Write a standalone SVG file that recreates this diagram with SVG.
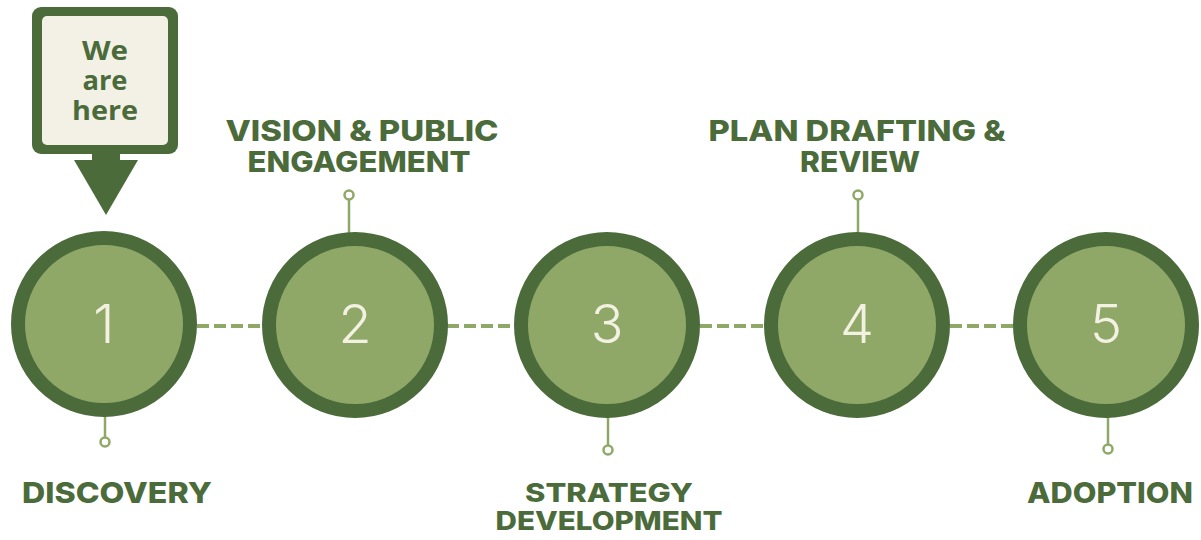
<svg xmlns="http://www.w3.org/2000/svg" width="1201" height="540" viewBox="0 0 1201 540">
<style>
.ring{fill:#8fa868;stroke:#4b6b3b;stroke-width:14}
.num{font-family:Inter,"Noto Sans",sans-serif;font-weight:300;font-size:54px;fill:#f3f1e2;text-anchor:middle}
.lbl{font-family:Inter,"Noto Sans",sans-serif;font-weight:800;font-size:29px;fill:#4b6b3b;text-anchor:middle}
.lbl2{font-size:26px}
.dash{stroke:#8fa868;stroke-width:4;stroke-dasharray:12 5;fill:none}
.pin{stroke:#8fa868;stroke-width:2.5;fill:none}
.pinc{stroke:#8fa868;stroke-width:2.5;fill:#ffffff}
.here{font-family:"Open Sans","Liberation Sans",sans-serif;font-weight:700;font-size:27px;fill:#4b6b3b;text-anchor:middle}
</style>
<rect width="1201" height="540" fill="#ffffff"/>
<g id="connectors">
<line class="dash" x1="197" y1="326" x2="262" y2="326"/>
<line class="dash" x1="447" y1="326" x2="514" y2="326"/>
<line class="dash" x1="700" y1="326" x2="764" y2="326"/>
<line class="dash" x1="950" y1="326" x2="1015" y2="326"/>
<line class="pin" x1="105" y1="416" x2="105" y2="437"/>
<circle class="pinc" cx="105" cy="442" r="4.5"/>
<line class="pin" x1="349" y1="200" x2="349" y2="234"/>
<circle class="pinc" cx="349" cy="195" r="4.5"/>
<line class="pin" x1="608" y1="416" x2="608" y2="445"/>
<circle class="pinc" cx="608" cy="450" r="4.5"/>
<line class="pin" x1="858" y1="200" x2="858" y2="234"/>
<circle class="pinc" cx="858" cy="195" r="4.5"/>
<line class="pin" x1="1108" y1="416" x2="1108" y2="444"/>
<circle class="pinc" cx="1108" cy="449" r="4.5"/>
</g>
<g id="we-are-here">
<rect x="32" y="7" width="146" height="147" rx="9" fill="#4b6b3b"/>
<rect x="42" y="16" width="126" height="129" rx="5" fill="#f3f1e6"/>
<rect x="92" y="150" width="28" height="12" fill="#4b6b3b"/>
<polygon points="74,160 138,160 106,215" fill="#4b6b3b"/>
<text class="here" x="105" y="60" textLength="46" lengthAdjust="spacingAndGlyphs">We</text>
<text class="here" x="105" y="90" textLength="45" lengthAdjust="spacingAndGlyphs">are</text>
<text class="here" x="105" y="120" textLength="66" lengthAdjust="spacingAndGlyphs">here</text>
</g>
<g id="step1">
<circle class="ring" cx="104" cy="324" r="86"/>
<text class="num" x="104" y="343">1</text>
<text class="lbl" x="117" y="503" textLength="190" lengthAdjust="spacingAndGlyphs">DISCOVERY</text>
</g>
<g id="step2">
<circle class="ring" cx="355" cy="325" r="86"/>
<text class="num" x="355" y="343">2</text>
<text class="lbl" x="362" y="141" textLength="273" lengthAdjust="spacingAndGlyphs">VISION &amp; PUBLIC</text>
<text class="lbl" x="359" y="172" textLength="223" lengthAdjust="spacingAndGlyphs">ENGAGEMENT</text>
</g>
<g id="step3">
<circle class="ring" cx="607" cy="325" r="86"/>
<text class="num" x="607" y="343">3</text>
<text class="lbl lbl2" x="609" y="502" textLength="168" lengthAdjust="spacingAndGlyphs">STRATEGY</text>
<text class="lbl lbl2" x="609" y="530" textLength="227" lengthAdjust="spacingAndGlyphs">DEVELOPMENT</text>
</g>
<g id="step4">
<circle class="ring" cx="857" cy="325" r="86"/>
<text class="num" x="857" y="343">4</text>
<text class="lbl" x="857" y="141" textLength="297" lengthAdjust="spacingAndGlyphs">PLAN DRAFTING &amp;</text>
<text class="lbl" x="860" y="172" textLength="120" lengthAdjust="spacingAndGlyphs">REVIEW</text>
</g>
<g id="step5">
<circle class="ring" cx="1106" cy="325" r="86"/>
<text class="num" x="1106" y="343">5</text>
<text class="lbl" x="1110" y="503" textLength="166" lengthAdjust="spacingAndGlyphs">ADOPTION</text>
</g>
</svg>
